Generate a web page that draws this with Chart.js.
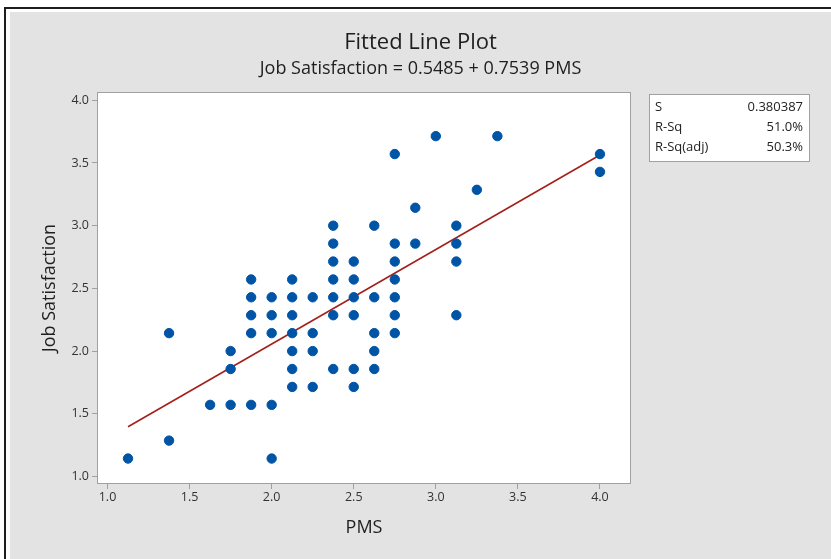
<!DOCTYPE html>
<html>
<head>
<meta charset="utf-8">
<title>Fitted Line Plot</title>
<script src="https://cdn.jsdelivr.net/npm/chart.js@4.4.1/dist/chart.umd.min.js"></script>
<style>
	body{margin:0;background:#fff;overflow:hidden;}
	#wrap{position:relative;width:831px;height:559px;overflow:hidden;background:#fff;}
	#topline{position:absolute;left:4px;top:7px;width:827px;height:2px;background:#1e1e1e;}
	#leftline{position:absolute;left:4px;top:7px;width:2px;height:552px;background:#1e1e1e;}
	#panel{position:absolute;left:10px;top:12px;width:821px;height:547px;background:#e3e3e3;}
	#mycanvas{position:absolute;left:0;top:0;}
</style>
</head>
<body>
<div id="wrap">
	<div id="topline"></div>
	<div id="leftline"></div>
	<div id="panel"></div>
	<canvas id="mycanvas" width="831" height="559"></canvas>
</div>
<script>
// PMS / Job Satisfaction pairs
var pms = [
	1.125,
	1.375, 1.375,
	1.625,
	1.75, 1.75, 1.75,
	1.875, 1.875, 1.875, 1.875, 1.875,
	2.0, 2.0, 2.0, 2.0, 2.0,
	2.125, 2.125, 2.125, 2.125, 2.125, 2.125, 2.125,
	2.25, 2.25, 2.25, 2.25,
	2.375, 2.375, 2.375, 2.375, 2.375, 2.375, 2.375,
	2.5, 2.5, 2.5, 2.5, 2.5, 2.5,
	2.625, 2.625, 2.625, 2.625, 2.625,
	2.75, 2.75, 2.75, 2.75, 2.75, 2.75, 2.75,
	2.875, 2.875,
	3.0,
	3.125, 3.125, 3.125, 3.125,
	3.25,
	3.375,
	4.0, 4.0
];
var jobSat = [
	1.143,
	2.143, 1.286,
	1.571,
	2.0, 1.857, 1.571,
	2.571, 2.429, 2.286, 2.143, 1.571,
	2.429, 2.286, 2.143, 1.571, 1.143,
	2.571, 2.429, 2.286, 2.143, 2.0, 1.857, 1.714,
	2.429, 2.143, 2.0, 1.714,
	3.0, 2.857, 2.714, 2.571, 2.429, 2.286, 1.857,
	2.714, 2.571, 2.429, 2.286, 1.857, 1.714,
	3.0, 2.429, 2.143, 2.0, 1.857,
	3.571, 2.857, 2.714, 2.571, 2.429, 2.286, 2.143,
	3.143, 2.857,
	3.714,
	3.0, 2.857, 2.714, 2.286,
	3.286,
	3.714,
	3.571, 3.429
];

// fitted line end points
var fitX = [1.125, 4.0];
var fitY = [1.397, 3.564];

var xTicks = [1.0, 1.5, 2.0, 2.5, 3.0, 3.5, 4.0];
var yTicks = [1.0, 1.5, 2.0, 2.5, 3.0, 3.5, 4.0];

var statNames = ["S", "R-Sq", "R-Sq(adj)"];
var statValues = ["0.380387", "51.0%", "50.3%"];

Chart.defaults.font.family = "'Open Sans', sans-serif";

var points = [];
for (var i in pms){
	points.push({x: pms[i], y: jobSat[i]});
}
var fitPoints = [];
for (var j in fitX){
	fitPoints.push({x: fitX[j], y: fitY[j]});
}

var plotFrame = {
	id: 'plotFrame',
	beforeDraw: function(chart){
		var a = chart.chartArea, c = chart.ctx;
		c.save();
		c.fillStyle = '#ffffff';
		c.fillRect(a.left, a.top, a.right - a.left, a.bottom - a.top);
		c.restore();
	},
	afterDraw: function(chart){
		var a = chart.chartArea, c = chart.ctx;
		c.save();
		c.strokeStyle = '#a0a0a0';
		c.lineWidth = 1;
		c.strokeRect(Math.round(a.left) + 0.5, Math.round(a.top) + 0.5, Math.round(a.right - a.left) - 1, Math.round(a.bottom - a.top) - 1);

		// stats box
		var bx = Math.round(a.right) + 18, by = Math.round(a.top) + 2;
		c.fillStyle = '#ffffff';
		c.fillRect(bx, by, 161, 68);
		c.strokeRect(bx + 0.5, by + 0.5, 160, 67);
		c.fillStyle = '#222';
		c.font = "13px 'Open Sans', sans-serif";
		c.textBaseline = 'middle';
		for (var k in statNames){
			var ry = by + 13 + k * 20;
			c.textAlign = 'left';
			c.fillText(statNames[k], bx + 6, ry);
			c.textAlign = 'right';
			c.fillText(statValues[k], bx + 154, ry);
		}
		c.restore();
	}
};

var ctx = document.getElementById('mycanvas');
var fitted = new Chart(ctx, {
	type: 'scatter',
	data: {
		datasets: [
		{
			label: "Job Satisfaction",
			data: points,
			backgroundColor: "#0054a6",
			borderColor: "#0054a6",
			pointRadius: 4.7,
			pointHoverRadius: 4.7,
			order: 0
		},
		{
			type: 'line',
			label: "Fit",
			data: fitPoints,
			borderColor: "#a3201c",
			borderWidth: 1.6,
			pointRadius: 0,
			fill: false,
			order: 1
		}
		]
	},
	options: {
		responsive: false,
		animation: false,
		layout: {padding: {left: 10, right: 0, top: 0, bottom: 0}},
		plugins: {
			legend: {display: false},
			tooltip: {enabled: false},
			title: {
				display: true,
				text: 'Fitted Line Plot',
				color: '#1e1e1e',
				font: {size: 22, weight: 'normal'},
				padding: {top: 30, bottom: 0}
			},
			subtitle: {
				display: true,
				text: 'Job Satisfaction = 0.5485 + 0.7539 PMS',
				color: '#1e1e1e',
				font: {size: 18},
				padding: {top: 2, bottom: 12}
			}
		},
		scales: {
			x: {
				type: 'linear',
				min: 0.936,
				max: 4.189,
				afterBuildTicks: function(s){ s.ticks = xTicks.map(function(v){ return {value: v}; }); },
				afterFit: function(s){ s.height = 75; },
				grid: {drawOnChartArea: false, drawTicks: true, tickLength: 5, color: '#a0a0a0'},
				border: {display: false},
				ticks: {padding: 1, color: '#333', font: {size: 12.5}, maxRotation: 0,
					callback: function(v){ return Number(v).toFixed(1); }},
				title: {display: true, text: 'PMS', color: '#1e1e1e', font: {size: 18}, padding: {top: 0, bottom: 20}}
			},
			y: {
				type: 'linear',
				min: 0.94,
				max: 4.066,
				afterBuildTicks: function(s){ s.ticks = yTicks.map(function(v){ return {value: v}; }); },
				afterFit: function(s){ s.width = 87; },
				grid: {drawOnChartArea: false, drawTicks: true, tickLength: 5, color: '#a0a0a0'},
				border: {display: false},
				ticks: {padding: 3, color: '#333', font: {size: 12.5},
					callback: function(v){ return Number(v).toFixed(1); }},
				title: {display: true, text: 'Job Satisfaction', color: '#1e1e1e', font: {size: 18}, padding: {top: 29, bottom: 0}}
			},
			side: {
				type: 'linear',
				position: 'right',
				display: true,
				afterFit: function(s){ s.width = 200; },
				grid: {display: false},
				border: {display: false},
				ticks: {display: false}
			}
		}
	},
	plugins: [plotFrame]
});
</script>
</body>
</html>
